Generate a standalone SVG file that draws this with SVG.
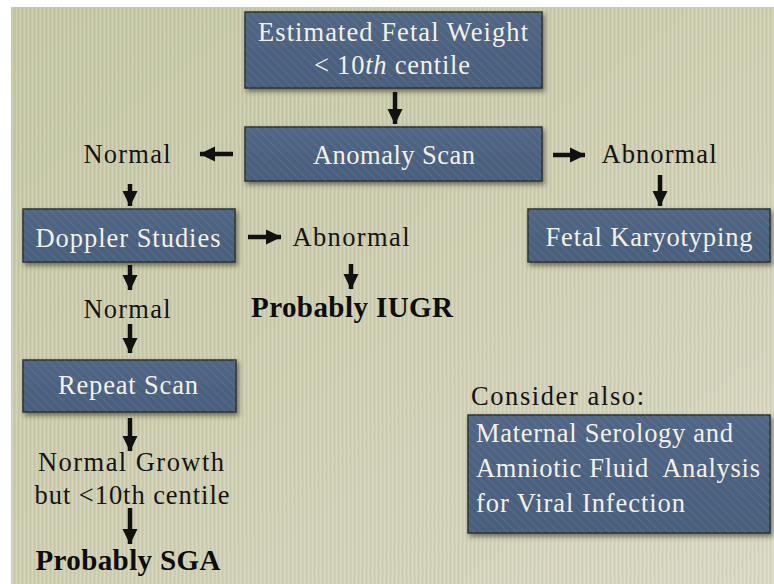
<svg xmlns="http://www.w3.org/2000/svg" width="774" height="584" viewBox="0 0 774 584">
<defs>
<linearGradient id="bg" x1="0" y1="0" x2="1" y2="1">
<stop offset="0" stop-color="#c4c6a2"/>
<stop offset="0.5" stop-color="#cdcdaf"/>
<stop offset="1" stop-color="#d9d7c2"/>
</linearGradient>
<pattern id="vlines" width="4" height="8" patternUnits="userSpaceOnUse">
<rect x="0" y="0" width="1" height="8" fill="#ffffff" opacity="0.18"/>
<rect x="2" y="0" width="1" height="8" fill="#7a7a55" opacity="0.08"/>
</pattern>
<linearGradient id="boxfill" x1="0" y1="0" x2="0" y2="1">
<stop offset="0" stop-color="#506684"/>
<stop offset="1" stop-color="#485d7b"/>
</linearGradient>
<pattern id="stripes" width="6" height="6" patternUnits="userSpaceOnUse" patternTransform="rotate(-45)">
<rect x="0" y="0" width="1.5" height="6" fill="#9aaac0" opacity="0.14"/>
</pattern>
<filter id="shadow" x="-10%" y="-20%" width="120%" height="150%">
<feDropShadow dx="2" dy="3" stdDeviation="2.5" flood-color="#2a2a1a" flood-opacity="0.6"/>
</filter>
<marker id="ah" markerUnits="userSpaceOnUse" markerWidth="16" markerHeight="16" refX="15" refY="8" orient="auto" viewBox="0 0 16 16">
<path d="M0,0.5 L15.5,8 L0,15.5 Z" fill="#111"/>
</marker>
<style>
.box{fill:url(#boxfill);stroke:#2c3330;stroke-width:1.5;filter:url(#shadow)}
.str{fill:url(#stripes);stroke:none}
.bt{font-family:"Liberation Serif","DejaVu Serif",serif;font-size:26.5px;fill:#f3f1e7;text-anchor:middle}
.lt{font-family:"Liberation Serif","DejaVu Serif",serif;font-size:26.5px;fill:#f3f1e7}
.t{font-family:"Liberation Serif","DejaVu Serif",serif;font-size:26.5px;fill:#141414;text-anchor:middle}
.tl{font-family:"Liberation Serif","DejaVu Serif",serif;font-size:26.5px;fill:#141414}
.b{font-family:"Liberation Serif","DejaVu Serif",serif;font-size:29px;font-weight:bold;fill:#0d0d0d;text-anchor:middle}
.arr{stroke:#111;stroke-width:4.5;fill:none;marker-end:url(#ah)}
</style>
</defs>
<rect x="0" y="0" width="774" height="584" fill="#ffffff"/>
<rect x="11" y="7" width="763" height="577" fill="url(#bg)"/>
<rect x="11" y="7" width="763" height="577" fill="url(#vlines)"/>

<g id="efw">
<rect class="box" x="245" y="12" width="297" height="76"/>
<rect class="str" x="245" y="12" width="297" height="76"/>
<text class="bt" x="393" y="41" textLength="270">Estimated Fetal Weight</text>
<text class="bt" x="392" y="74" textLength="156">&lt; 10<tspan font-style="italic">th</tspan> centile</text>
</g>

<g id="anomaly">
<rect class="box" x="245" y="127" width="297" height="54"/>
<rect class="str" x="245" y="127" width="297" height="54"/>
<text class="bt" x="394" y="164" textLength="162">Anomaly Scan</text>
</g>

<g id="normal1"><text class="t" x="127" y="163" textLength="87">Normal</text></g>

<g id="abnormal1"><text class="t" x="659" y="163" textLength="115">Abnormal</text></g>

<g id="doppler">
<rect class="box" x="23" y="209" width="212" height="53"/>
<rect class="str" x="23" y="209" width="212" height="53"/>
<text class="bt" x="128" y="247" textLength="185">Doppler Studies</text>
</g>

<g id="abnormal2"><text class="t" x="351" y="246" textLength="117">Abnormal</text></g>

<g id="karyo">
<rect class="box" x="528" y="209" width="242" height="53"/>
<rect class="str" x="528" y="209" width="242" height="53"/>
<text class="bt" x="649" y="246" textLength="207">Fetal Karyotyping</text>
</g>

<g id="normal2"><text class="t" x="127" y="318" textLength="87">Normal</text></g>

<g id="iugr"><text class="b" x="352" y="317" textLength="202">Probably IUGR</text></g>

<g id="repeat">
<rect class="box" x="23" y="360" width="213" height="52"/>
<rect class="str" x="23" y="360" width="213" height="52"/>
<text class="bt" x="128" y="394" textLength="140">Repeat Scan</text>
</g>

<g id="growth">
<text class="t" x="131" y="471" textLength="186">Normal Growth</text>
<text class="t" x="132" y="504" textLength="195">but &lt;10th centile</text>
</g>

<g id="sga"><text class="b" x="128" y="570" textLength="185">Probably SGA</text></g>

<g id="consider"><text class="tl" x="471" y="405" textLength="173">Consider also:</text></g>

<g id="serology">
<rect class="box" x="468" y="415" width="302" height="118"/>
<rect class="str" x="468" y="415" width="302" height="118"/>
<text class="lt" x="476" y="442" textLength="257">Maternal Serology and</text>
<text class="lt" x="476" y="477" textLength="284" xml:space="preserve">Amniotic Fluid  Analysis</text>
<text class="lt" x="476" y="512" textLength="209">for Viral Infection</text>
</g>

<g id="connectors">
<line class="arr" x1="395" y1="92" x2="395" y2="124"/>
<line class="arr" x1="233" y1="154" x2="200" y2="154"/>
<line class="arr" x1="130" y1="184" x2="130" y2="206"/>
<line class="arr" x1="553" y1="155" x2="585" y2="155"/>
<line class="arr" x1="660" y1="175" x2="660" y2="206"/>
<line class="arr" x1="248" y1="237" x2="281" y2="237"/>
<line class="arr" x1="351" y1="264" x2="351" y2="289"/>
<line class="arr" x1="130" y1="265" x2="130" y2="290"/>
<line class="arr" x1="130" y1="324" x2="130" y2="353"/>
<line class="arr" x1="130" y1="418" x2="130" y2="451"/>
<line class="arr" x1="130" y1="508" x2="130" y2="544"/>
</g>
</svg>
